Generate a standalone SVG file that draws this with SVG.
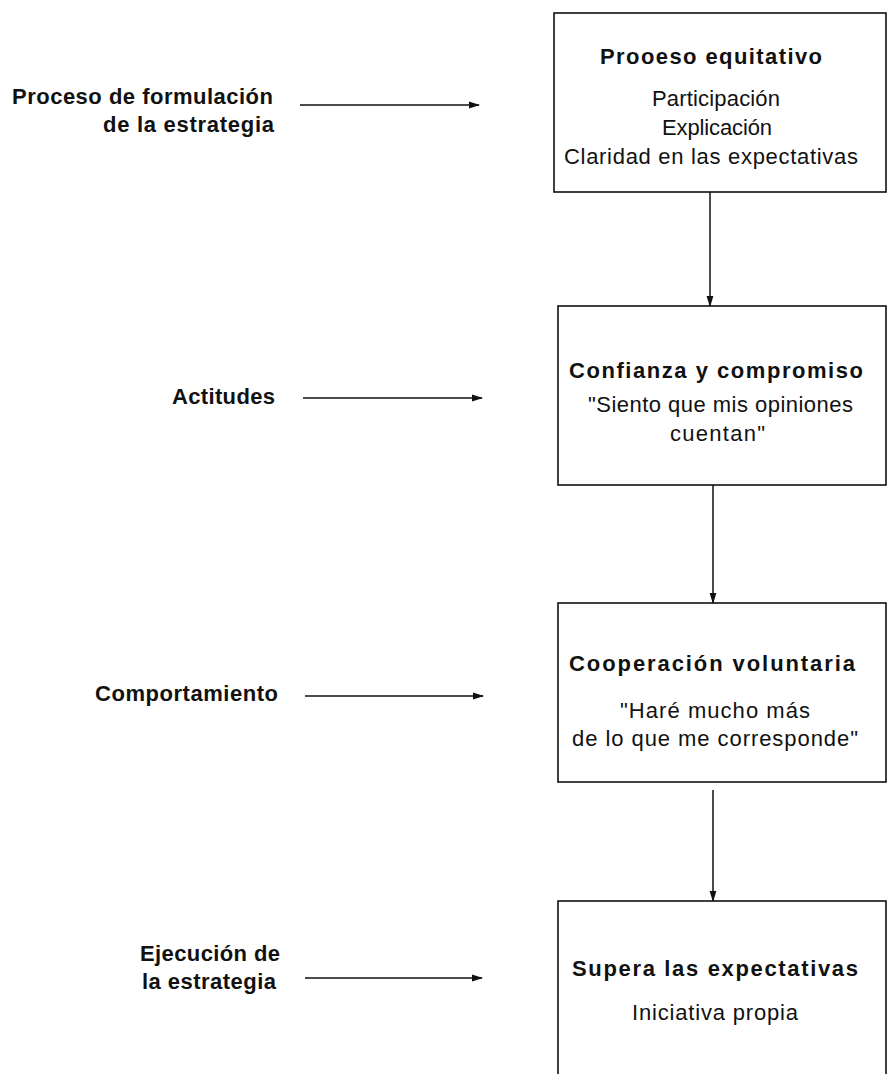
<svg xmlns="http://www.w3.org/2000/svg" width="888" height="1074" viewBox="0 0 888 1074">
<style>
text{font-family:"Liberation Sans",Arial,Helvetica,sans-serif;font-size:22px;fill:#111}
.b{font-weight:bold}
.box{fill:none;stroke:#111;stroke-width:1.6}
.c{stroke:#111;stroke-width:1.5;fill:none}
</style>
<defs>
<marker id="ah" markerWidth="11" markerHeight="8" refX="10" refY="4" orient="auto" markerUnits="userSpaceOnUse">
<path d="M0,0.6 L11,4 L0,7.4 Z" fill="#111"/>
</marker>
</defs>
<rect width="888" height="1074" fill="#fff"/>
<g id="connectors">
<line class="c" x1="300" y1="105" x2="479" y2="105" marker-end="url(#ah)"/>
<line class="c" x1="303" y1="398" x2="482" y2="398" marker-end="url(#ah)"/>
<line class="c" x1="305" y1="696" x2="483" y2="696" marker-end="url(#ah)"/>
<line class="c" x1="305" y1="978" x2="482" y2="978" marker-end="url(#ah)"/>
<line class="c" x1="710" y1="192" x2="710" y2="306" marker-end="url(#ah)"/>
<line class="c" x1="713" y1="485" x2="713" y2="603" marker-end="url(#ah)"/>
<line class="c" x1="713" y1="790" x2="713" y2="901" marker-end="url(#ah)"/>
</g>
<g id="label-proceso">
<text class="b" x="12" y="104" textLength="261">Proceso de formulación</text>
<text class="b" x="103" y="132" textLength="171">de la estrategia</text>
</g>
<g id="label-actitudes">
<text class="b" x="172" y="404" textLength="103">Actitudes</text>
</g>
<g id="label-comportamiento">
<text class="b" x="95" y="701" textLength="183">Comportamiento</text>
</g>
<g id="label-ejecucion">
<text class="b" x="140" y="961" textLength="140">Ejecución de</text>
<text class="b" x="142" y="989" textLength="134">la estrategia</text>
</g>
<g id="node-proceso-equitativo">
<rect class="box" x="554" y="13" width="332" height="179"/>
<text class="b" x="600" y="64" textLength="222">Prooeso equitativo</text>
<text x="652" y="106" textLength="128">Participación</text>
<text x="662" y="135" textLength="110">Explicación</text>
<text x="564" y="164" textLength="294">Claridad en las expectativas</text>
</g>
<g id="node-confianza">
<rect class="box" x="558" y="306" width="328" height="179"/>
<text class="b" x="569" y="378" textLength="294">Confianza y compromiso</text>
<text x="588" y="412" textLength="265">"Siento que mis opiniones</text>
<text x="670" y="441" textLength="95">cuentan"</text>
</g>
<g id="node-cooperacion">
<rect class="box" x="558" y="603" width="328" height="179"/>
<text class="b" x="569" y="671" textLength="286">Cooperación voluntaria</text>
<text x="620" y="718" textLength="190">"Haré mucho más</text>
<text x="572" y="746" textLength="286">de lo que me corresponde"</text>
</g>
<g id="node-supera">
<rect class="box" x="558" y="901" width="328" height="190"/>
<text class="b" x="572" y="976" textLength="286">Supera las expectativas</text>
<text x="632" y="1020" textLength="166">Iniciativa propia</text>
</g>
</svg>
